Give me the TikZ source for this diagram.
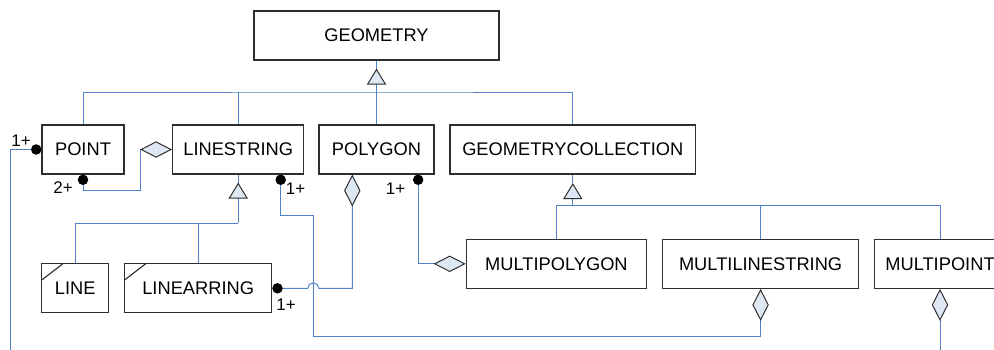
\documentclass[tikz,border=0pt]{standalone}
\usepackage{fontspec}
\setmainfont{Liberation Sans}
\usetikzlibrary{arrows.meta,calc}

\definecolor{linkblue}{RGB}{79,129,200}
\definecolor{boxline}{RGB}{45,45,45}
\definecolor{tipfill}{RGB}{222,231,244}

\begin{document}
\begin{tikzpicture}[x=0.025cm, y=-0.025cm,
    cls/.style={draw=boxline, line width=0.8pt, rectangle, minimum height=1.225cm, inner sep=0pt, font=\fontsize{13}{15}\selectfont},
    link/.style={draw=linkblue, line width=0.7pt},
    gen/.style={link, -{Triangle[length=0.4cm, width=0.48cm, fill=tipfill, color=boxline]}},
    agg/.style={link, {Circle[length=0.26cm, color=black]}-{Diamond[length=0.8cm, width=0.41cm, fill=tipfill, color=boxline]}},
    mult/.style={font=\fontsize{12}{14}\selectfont, inner sep=0pt},
    cornered/.style={path picture={\draw[boxline, line width=0.8pt] ([yshift=-0.4cm]path picture bounding box.north west) -- ([xshift=0.52cm]path picture bounding box.north west);}}]
    \useasboundingbox (0,0) rectangle (994,349);
    \clip (0,0) rectangle (994,349);

    % classes
    \node[cls, minimum width=6.125cm] (geometry) at (376.5,35.5) {GEOMETRY};
    \node[cls, minimum width=2.05cm] (point) at (83,149.5) {POINT};
    \node[cls, minimum width=3.275cm] (linestring) at (238.2,149.5) {LINESTRING};
    \node[cls, minimum width=2.875cm] (polygon) at (376.5,149.5) {POLYGON};
    \node[cls, minimum width=6.14cm] (geomcoll) at (572.8,149.5) {GEOMETRYCOLLECTION};
    \node[cls, cornered, minimum width=1.67cm, minimum height=1.22cm] (line) at (75.3,288.3) {LINE};
    \node[cls, cornered, minimum width=3.675cm, minimum height=1.22cm] (linearring) at (198.2,288.3) {LINEARRING};
    \node[cls, minimum width=4.505cm] (multipolygon) at (556.4,263.8) {MULTIPOLYGON};
    \node[cls, minimum width=4.905cm] (multilinestring) at (760.6,263.8) {MULTILINESTRING};
    \node[cls, minimum width=3.285cm] (multipoint) at (940,263.8) {MULTIPOINT};

    % inheritance
    \coordinate (topbus) at (376.5,92);
    \draw[link] (geometry.south) -- ++(0,8) coordinate (geomtip);
    \draw[gen] (topbus) -- (geomtip);
    \draw[link] (point.north) |- (topbus) -| (geomcoll.north);
    \draw[link] (linestring.north) -- (linestring.north |- topbus);
    \draw[link] (polygon.north) -- (topbus);

    \coordinate (linebus) at (238.2,223);
    \draw[link] (linestring.south) -- ++(0,8) coordinate (linetip);
    \draw[gen] (linebus) -- (linetip);
    \draw[link] (line.north) |- (linebus);
    \draw[link] (linearring.north) -- (linearring.north |- linebus);

    \coordinate (collbus) at (572.8,205.7);
    \draw[link] (geomcoll.south) -- ++(0,8.5) coordinate (colltip);
    \draw[gen] (collbus) -- (colltip);
    \draw[link] (multipolygon.north) |- (collbus) -| (multipoint.north);
    \draw[link] (multilinestring.north) -- (multilinestring.north |- collbus);

    % aggregations
    \coordinate (ptbend) at (140,190);
    \draw[agg] (point.south) |- (ptbend) |- (linestring.west);
    \node[mult] (twoplus) at (63,188) {2+};

    \coordinate (lsbend) at (313.3,215);
    \coordinate (lowbend) at (313.3,336.7);
    \draw[agg] ([xshift=-0.59cm]linestring.south east) |- (lsbend) -- (lowbend) -| (multilinestring.south);
    \node[mult] (lsmult) at (295.5,189) {1+};

    \draw[agg] (linearring.east) -- ($(linearring.east -| lowbend)+(-5.5,0)$)
        arc[start angle=180, end angle=0, radius=0.1375cm] -| ([xshift=-0.605cm]polygon.south);
    \node[mult] (lrmult) at (286,305) {1+};

    \draw[agg] ([xshift=-0.41cm]polygon.south east) |- (multipolygon.west);
    \node[mult] (pgmult) at (395.5,189) {1+};

    \coordinate (outcorner) at (10,370);
    \draw[agg] (point.west) -| (outcorner) -| (multipoint.south);
    \node[mult] (ptmult) at (21,140.5) {1+};
\end{tikzpicture}
\end{document}
